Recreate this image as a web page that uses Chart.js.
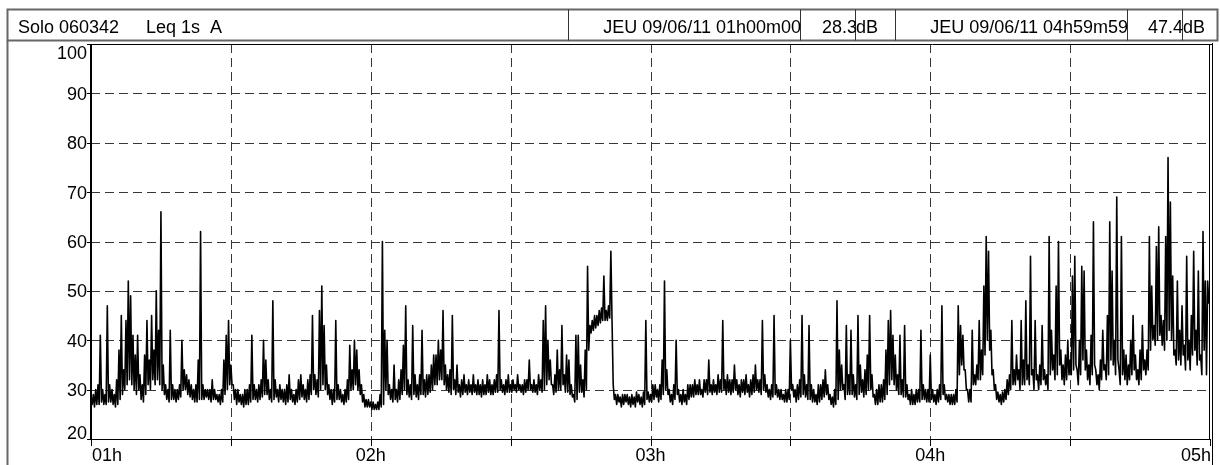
<!DOCTYPE html>
<html>
<head>
<meta charset="utf-8">
<script src="https://cdn.jsdelivr.net/npm/chart.js@4.4.1/dist/chart.umd.min.js"></script>
<style>
  html, body { margin: 0; padding: 0; background: #fff; overflow: hidden; }
  canvas { display: block; }
</style>
</head>
<body>
<canvas id="c" width="1220" height="465"></canvas>
<script>
// Leq 1 s, A-weighted (dB). Each 30 s slot keeps its highest and lowest level,
// one pair of arrays per half hour from 01h00 to 05h00.
const STEP_S = 30;

const hi0100 = [28.3,29,30,31,41,30,29,47,31,30, 29,32,38,45,34,44,52,49,41,37, 41,33,31,37,44,36,45,38,50,42, 66,35,31,30,42,31,30,30,31,40, 34,33,32,31,30,31,36,62,31,30, 30,30,32,30,29,29,30,36,41,44];
const lo0100 = [27,26.5,27,27,27.5,27,27,27.5,27.5,27, 26.5,27,28,29,30,31,32,31,30,29, 30,28,27.5,29,31,30,32,31,32,31, 30,29,28,27.5,28,28,27.5,28,28.5,30, 30,29,28.5,28,27.5,27.5,28,28,28,28.5, 28,27.5,28,28,27.5,27,27.5,29,30,31];

const hi0130 = [35,31,30,30,29,29,30,30,31,41, 31,30,31,32,40,36,32,30,48,32, 30,31,30,30,31,33,30,29,30,32, 33,31,30,32,33,45,33,32,46,51, 43,35,31,30,30,44,31,30,29,30, 32,39,34,40,38,34,31,29,28,28];
const lo0130 = [31,28,27,27.5,27,26.5,27,27,27.5,28, 28,27.5,28,28.5,29,29,28,27.5,28,28.5, 27.5,28,27.5,27,27.5,28,27.5,27,27.5,28, 28.5,28,27.5,28,29,30,29,28.5,30,31, 30,29,28,27,27.5,28,28,27.5,27,27.5, 28,30,30,31,30,29,27.5,26.5,26.5,26.5];

const hi0200 = [27.5,27.5,27,27.5,29,60,42,40,31,30, 35,30,32,34,39,47,32,31,43,33, 31,33,42,32,33,33,35,37,37,40, 38,46,35,33,34,45,32,35,31,32, 33,31,32,31,33,31,32,31,32,31, 33,32,31,32,33,46,32,31,32,33];
const lo0200 = [26,26,26,26,26.5,27,30,29,28,27.5, 28,27.5,28,29,30,29,28.5,28,29,28.5, 28,29,29,28.5,29,29.5,30,31,31,32, 32,31,30,29.5,29,30,29,29.5,28.5,29, 29.5,29,29.5,29,29.5,29,29,28.5,29,29, 29.5,29,29,29.5,29.5,30,29.5,29,29.5,29.5];

const hi0230 = [31,32,31,33,31,31,32,32,36,31, 32,31,33,32,44,47,40,36,31,33, 38,34,43,33,37,36,31,29,41,41, 35,32,38,55,43,44,45,45,46,46.5, 53,46,47,58,31,29,29,28.5,29,29, 29,28.5,29,28.5,29.5,29,28.5,29.5,44,29.5];
const lo0230 = [29.5,30,29.5,30,29.5,29,29.5,30,30,29.5, 29.5,29,30,29.5,30,31,32,31,29,29.5, 30,30,31,29.5,29.5,29,28.5,27.5,28,29.5, 29.5,28.5,30,38,41.5,42,42.5,43,43.5,44, 44,44,44.5,44,28,27,27.5,26.5,27,27.5, 27,26.5,27,26.5,27.5,27,26.5,27,28,27.5];

const hi0300 = [29,31,31,30,31,36,52,34,30,29, 31,40,30,29,30,29,31,31,31,32, 31,32,30,32,32,36,31,32,31,33, 32,44,32,33,32,32,35,32,31,32, 32,33,31,32,33,35,32,32,44,33, 31,30,31,45,31,30,30,29,30,30];
const lo0300 = [27.5,28,28.5,27.5,28,29,30,29,27.5,27, 28,29,27.5,27,27.5,27,28,28.5,28.5,29, 29,29,28.5,29.5,29,29.5,29,29.5,29,29.5, 29.5,30,29,29.5,29,29.5,30,29,28.5,29.5, 29,29.5,28.5,29,29.5,30,29.5,29,30,29.5, 28.5,28,28.5,29,28.5,28,28,27.5,27.5,28];

const hi0330 = [40,31,30,31,32,45,33,31,43,31, 30,29,31,31,32,34,31,29,28.5,30, 48,38,35,31,43,33,42,33,31,45, 35,32,34,37,45,33,29,30,31,31, 32,38,44,46,41,37,33,41,32,43, 31,29,30,29,30,30,42,31,30,30];
const lo0330 = [30,28.5,27.5,28,28.5,29,28.5,28,28,27.5, 27.5,27,27.5,28,28.5,29,28,27,26.5,27, 28,30,30,28,29,29,29,28.5,28,29, 29.5,28.5,29,30,30,28.5,27,27,27.5,27.5, 28,29,31,32,31,30,29,29,28.5,28.5, 28,27,27,27,27.5,27.5,28,28,27.5,27.5];

const hi0400 = [37,30,29,30,31,47,31,29,29,29, 29,30,47,43,41,34,30,30,42,33, 35,44,38,51,61,58,42,34,31,29.5, 29,29.5,30,32,33,44,34,37,34,44, 36,48,35,57,34,44,33,35,43,34, 33,61,42,37,51,60,38,35,37,40];
const lo0400 = [28,27.5,27,27.5,28,29,28,27.5,27,27, 27,27.5,33,35,34,30,27.5,27.5,31,31, 32,32,33,37,40,38,33,30,28,27.5, 27,27.5,28,29,30,31,31,32,30,31, 31,32,31,33,30,32,30,31,32,31, 30,33,34,32,33,35,32,31,32,33];

const hi0430 = [36,53,57,34,40,55,54,38,35,41, 64,34,33,36,42,35,45,64,54,40, 69,34,61,38,37,35,40,45,37,34, 38,43,36,38,61,51,43,59,63,45, 44,61,77,68,53,38,52,42,47,39, 57,40,45,58,42,54,37,62,52,52];
const lo0430 = [33,34,35,31,33,36,34,32,31,33, 35,31,30,32,34,32,33,36,35,33, 36,31,33,32,31,32,33,34,32,31, 32,34,33,34,38,40,39,40,41,39, 38,40,42,40,37,35,36,35,37,34, 36,34,37,38,35,36,33,38,33,47.4];

// axis ticks
const yTicks = [20, 30, 40, 50, 60, 70, 80, 90, 100];
const hourLabels = ['01h', '02h', '03h', '04h', '05h'];

// header texts
const station = 'Solo 060342';
const measure = 'Leq 1s  A';
const startStamp = 'JEU 09/06/11 01h00m00';
const endStamp = 'JEU 09/06/11 04h59m59';
const unit = 'dB';

const hi = [].concat(hi0100, hi0130, hi0200, hi0230, hi0300, hi0330, hi0400, hi0430);
const lo = [].concat(lo0100, lo0130, lo0200, lo0230, lo0300, lo0330, lo0400, lo0430);
const points = [];
hi.forEach((v, i) => {
  points.push({ x: i * STEP_S, y: v });
  points.push({ x: i * STEP_S + STEP_S / 2, y: lo[i] });
});
const spanS = (hourLabels.length - 1) * 3600;
const firstLevel = points[0].y;
const lastLevel = points[points.length - 1].y;

const FONT = '18px "Liberation Sans", Arial, sans-serif';
const snap = v => Math.round(v) + 0.5;

function seg(ctx, x1, y1, x2, y2) { ctx.moveTo(x1, y1); ctx.lineTo(x2, y2); }

const sonometer = {
  id: 'sonometer',
  beforeDatasetsDraw(chart) {
    const { ctx, chartArea: a, scales: { x, y } } = chart;
    ctx.save();
    ctx.strokeStyle = '#383838';
    ctx.lineWidth = 1;
    ctx.setLineDash([9, 5]);
    ctx.beginPath();
    yTicks.slice(1, -1).forEach(v => {
      const py = snap(y.getPixelForValue(v));
      seg(ctx, a.left, py, a.right, py);
    });
    for (let s = 1800; s < spanS; s += 1800) {
      const px = snap(x.getPixelForValue(s));
      seg(ctx, px, a.top, px, a.bottom);
    }
    ctx.stroke();
    ctx.restore();
  },
  afterDatasetsDraw(chart) {
    const { ctx, chartArea: a, scales: { x, y } } = chart;
    const H = chart.height;
    ctx.save();
    ctx.setLineDash([]);

    // plot frame
    ctx.strokeStyle = '#000';
    ctx.lineWidth = 1;
    ctx.beginPath();
    seg(ctx, a.left, snap(a.top), 1213, snap(a.top));
    seg(ctx, a.left, snap(a.bottom), a.right, snap(a.bottom));
    seg(ctx, snap(a.right) - 1, a.top, snap(a.right) - 1, a.bottom);
    seg(ctx, 1212.5, a.top - 1, 1212.5, H);
    ctx.stroke();
    ctx.lineWidth = 2;
    ctx.beginPath();
    seg(ctx, a.left, a.top, a.left, a.bottom + 1);
    ctx.stroke();

    // tick marks
    ctx.lineWidth = 1;
    ctx.beginPath();
    for (let s = 0; s <= spanS; s += 1800) {
      const px = snap(x.getPixelForValue(s));
      seg(ctx, px, a.bottom, px, a.bottom + 7);
    }
    yTicks.forEach(v => {
      const py = snap(y.getPixelForValue(v));
      seg(ctx, a.left - 4, py, a.left, py);
    });
    ctx.stroke();

    // tick labels
    ctx.font = FONT;
    ctx.fillStyle = '#000';
    ctx.textBaseline = 'alphabetic';
    ctx.textAlign = 'right';
    yTicks.forEach((v, i) => {
      const py = y.getPixelForValue(v);
      let base = py + 6.5;
      if (i === yTicks.length - 1) base = py + 15;
      if (i === 0) base = py;
      ctx.fillText(String(v), a.left - 4, base);
    });
    hourLabels.forEach((lab, i) => {
      const px = x.getPixelForValue(i * 3600);
      const last = i === hourLabels.length - 1;
      ctx.textAlign = i === 0 ? 'left' : (last ? 'right' : 'center');
      ctx.fillText(lab, (i === 0 || last) ? px + 1 : px, 461);
    });

    // header band
    const top = 9.5, bot = 40.5;
    ctx.strokeStyle = '#666';
    ctx.lineWidth = 2;
    ctx.strokeRect(7.5, top, 1210, bot - top);
    ctx.beginPath();
    seg(ctx, 7.5, bot, 7.5, H);
    ctx.stroke();
    ctx.strokeStyle = '#333';
    ctx.lineWidth = 1;
    ctx.beginPath();
    [568, 800, 855, 895, 1127, 1182].forEach(sx => seg(ctx, sx + 0.5, top, sx + 0.5, bot));
    ctx.stroke();

    ctx.fillStyle = '#000';
    const base = 33;
    ctx.textAlign = 'left';
    ctx.fillText(station, 18, base);
    ctx.fillText(measure, 146, base);
    ctx.textAlign = 'right';
    ctx.fillText(startStamp, 801, base);
    ctx.fillText(firstLevel.toFixed(1), 857, base);
    ctx.fillText(endStamp, 1128, base);
    ctx.fillText(lastLevel.toFixed(1), 1183, base);
    ctx.textAlign = 'left';
    ctx.fillText(unit, 856, base);
    ctx.fillText(unit, 1183, base);
    ctx.restore();
  }
};

new Chart(document.getElementById('c'), {
  type: 'line',
  data: {
    datasets: [{
      data: points,
      borderColor: '#000',
      borderWidth: 1.6,
      borderJoinStyle: 'round',
      pointRadius: 0,
      tension: 0,
      fill: false
    }]
  },
  options: {
    responsive: false,
    devicePixelRatio: 1,
    animation: false,
    events: [],
    layout: { padding: { left: 91, right: 10, top: 44, bottom: 26 } },
    plugins: { legend: { display: false }, tooltip: { enabled: false } },
    scales: {
      x: { type: 'linear', min: 0, max: spanS, display: false },
      y: { min: yTicks[0], max: yTicks[yTicks.length - 1], display: false }
    }
  },
  plugins: [sonometer]
});
</script>
</body>
</html>
